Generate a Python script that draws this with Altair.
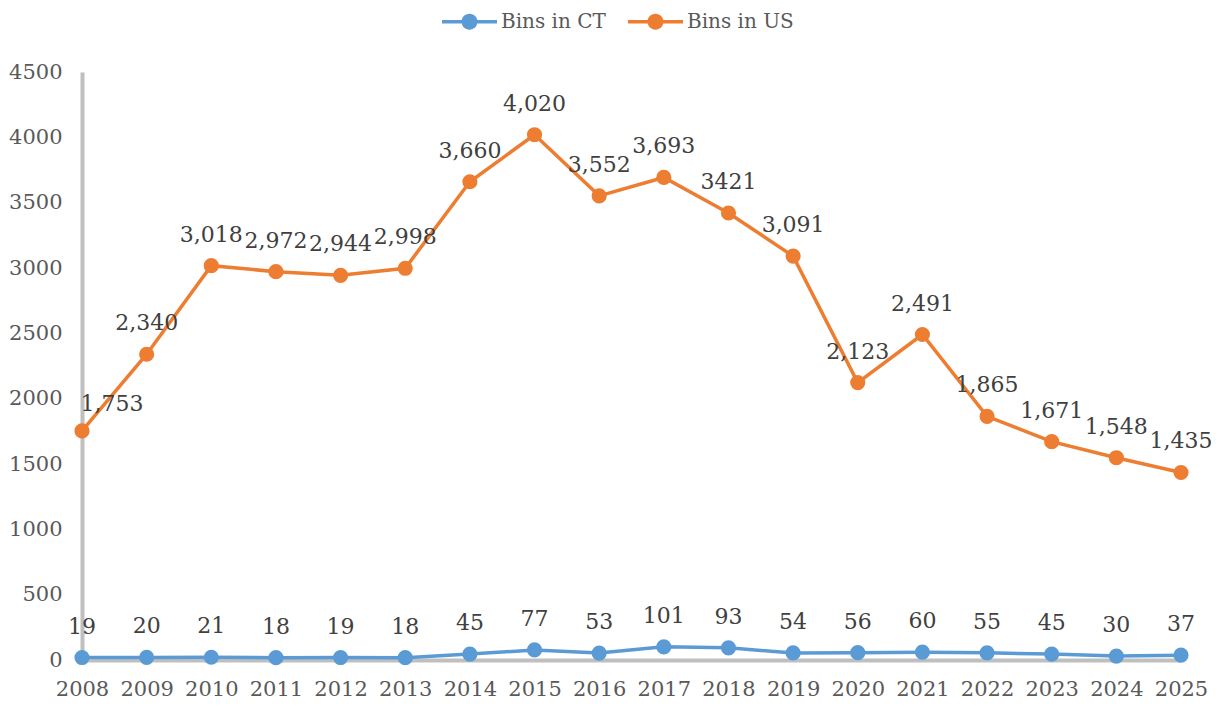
import altair as alt
import pandas as pd

years = list(range(2008, 2026))
ct_values = [19, 20, 21, 18, 19, 18, 45, 77, 53, 101, 93, 54, 56, 60, 55, 45, 30, 37]
us_values = [1753, 2340, 3018, 2972, 2944, 2998, 3660, 4020, 3552, 3693, 3421, 3091,
             2123, 2491, 1865, 1671, 1548, 1435]
ct_labels = [str(v) for v in ct_values]
us_labels = ["1,753", "2,340", "3,018", "2,972", "2,944", "2,998", "3,660", "4,020", "3,552",
             "3,693", "3421", "3,091", "2,123", "2,491", "1,865", "1,671", "1,548", "1,435"]
series_names = ["Bins in CT", "Bins in US"]
y_ticks = list(range(0, 4501, 500))

rows = []
for name, vals, labs in [(series_names[0], ct_values, ct_labels), (series_names[1], us_values, us_labels)]:
    for yr, v, lab in zip(years, vals, labs):
        rows.append({"year": yr, "value": v, "label": lab, "series": name})
df = pd.DataFrame(rows)

FONT = "DejaVu Serif"
colors = ["#5B9BD5", "#ED7D31"]

x = alt.X("year:Q", scale=alt.Scale(domain=[2008, 2025], nice=False, zero=False),
          axis=alt.Axis(values=years, format="d", title=None, ticks=False, grid=False,
                        labelOverlap=False, labelFlush=False,
                        domainColor="#BFBFBF", domainWidth=4, labelPadding=18,
                        labelFont=FONT, labelFontSize=21, labelColor="#595959"))
y = alt.Y("value:Q", scale=alt.Scale(domain=[0, 4500], nice=False),
          axis=alt.Axis(values=y_ticks, format="d", title=None, ticks=False, grid=False,
                        labelOverlap=False, labelFlush=False,
                        domainColor="#BFBFBF", domainWidth=4, labelPadding=20,
                        labelFont=FONT, labelFontSize=21, labelColor="#595959"))
color_scale = alt.Scale(domain=series_names, range=colors)

sym = ("M-1,-0.064L1,-0.064L1,0.064L-1,0.064Z "
       "M-0.29,0A0.29,0.29 0 1,1 0.29,0A0.29,0.29 0 1,1 -0.29,0Z")

legend = alt.Legend(title=None, orient="none", direction="horizontal",
                    legendX=360, legendY=-78,
                    symbolType=sym, symbolSize=3025, symbolStrokeWidth=0,
                    symbolOpacity=1,
                    labelFont=FONT, labelFontSize=20, labelColor="#595959",
                    labelOffset=4, columnPadding=22)

base = alt.Chart(df)

lines = base.mark_line(strokeWidth=3.5).encode(
    x=x, y=y, color=alt.Color("series:N", scale=color_scale, legend=legend),
    detail="series:N")

points = base.mark_circle(size=230, opacity=1).encode(
    x=x, y=y,
    color=alt.Color("series:N", scale=color_scale, legend=legend))

text_main = base.mark_text(dy=-31, font=FONT, fontSize=22, color="#404040").encode(
    x=x, y=y, text="label:N").transform_filter(
    ~((alt.datum.year == 2008) & (alt.datum.series == "Bins in US")))

text_first = base.mark_text(dy=-27, dx=30, font=FONT, fontSize=22, color="#404040").encode(
    x=x, y=y, text="label:N").transform_filter(
    (alt.datum.year == 2008) & (alt.datum.series == "Bins in US"))

chart = alt.layer(lines, points, text_main, text_first).properties(
    width=1099, height=588,
    padding={"left": 74, "top": 64, "right": 36, "bottom": 40},
    autosize=alt.AutoSizeParams(type="none"),
).configure_view(stroke=None).configure_legend(symbolFillColor="#888")

chart.save("out.html", embed_options={"renderer": "svg", "actions": False})
